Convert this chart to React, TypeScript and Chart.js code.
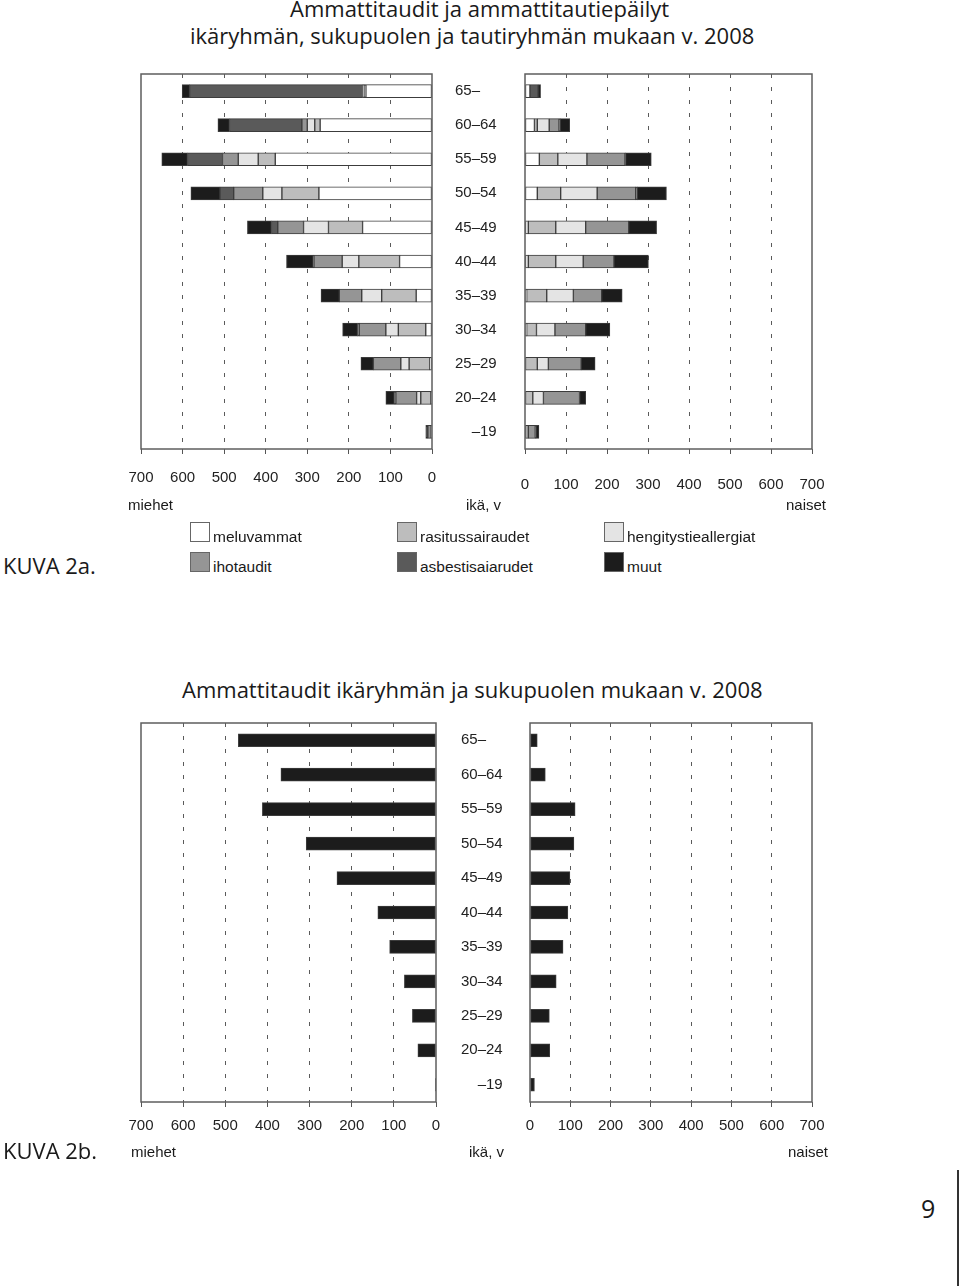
import { useEffect, useRef } from 'react';
import { Chart, registerables } from 'chart.js';

Chart.register(...registerables);

// ikäryhmät ylhäältä alas
const AGE_GROUPS = ['65–', '60–64', '55–59', '50–54', '45–49', '40–44', '35–39', '30–34', '25–29', '20–24', '\u2007\u2007–19'];

const DISEASE_GROUPS = ['meluvammat', 'rasitussairaudet', 'hengitystieallergiat', 'ihotaudit', 'asbestisaiarudet', 'muut'];
const DISEASE_COLORS = ['#ffffff', '#bdbdbd', '#e4e4e4', '#959595', '#5a5a5a', '#1c1c1c'];

// KUVA 2a, miehet
const MEN_MELU = [159, 269, 377, 272, 167, 78, 38, 15, 5, 3, 0];
const MEN_RASITUS = [4, 13, 41, 89, 82, 98, 83, 66, 50, 24, 2];
const MEN_HENGITYS = [2, 18, 48, 46, 60, 40, 48, 30, 20, 10, 0];
const MEN_IHO = [2, 13, 38, 70, 62, 68, 54, 64, 66, 50, 8];
const MEN_ASBESTI = [416, 174, 84, 33, 15, 2, 0, 4, 0, 4, 0];
const MEN_MUUT = [18, 28, 62, 70, 58, 64, 44, 36, 30, 20, 5];

// KUVA 2a, naiset
const WOMEN_MELU = [12, 23, 35, 30, 8, 8, 4, 4, 0, 0, 0];
const WOMEN_RASITUS = [0, 7, 45, 57, 67, 67, 49, 24, 30, 19, 8];
const WOMEN_HENGITYS = [0, 29, 71, 89, 73, 67, 65, 45, 27, 26, 0];
const WOMEN_IHO = [0, 24, 93, 94, 105, 75, 69, 75, 80, 88, 17];
const WOMEN_ASBESTI = [20, 3, 1, 4, 0, 0, 0, 0, 0, 0, 2];
const WOMEN_MUUT = [6, 23, 63, 71, 68, 84, 50, 59, 34, 15, 7];

// KUVA 2b
const MEN_TOTAL = [469, 368, 412, 308, 235, 138, 110, 75, 56, 43, 1];
const WOMEN_TOTAL = [18, 38, 112, 109, 99, 94, 82, 65, 48, 49, 11];

const AXIS_MAX = 700;
const AXIS_STEP = 100;

const AXIS_FONT = "'Liberation Sans', Arial, sans-serif";
const TITLE_FONT = "'Open Sans', 'Noto Sans', sans-serif";

interface Series {
  label: string;
  data: number[];
  color: string;
}

interface PanelProps {
  side: 'left' | 'right';
  series: Series[];
  left: number;
  top: number;
  width: number;
  height: number;
  padLeft: number;
  padRight: number;
  padTop: number;
  tickPadding: number;
  labelWidth?: number;
}

// kehys kuva-alueen ympärille
const frameBox = {
  id: 'frameBox',
  afterDatasetsDraw(chart: any) {
    const { ctx, chartArea } = chart;
    const { left, top, right, bottom } = chartArea;
    ctx.save();
    ctx.strokeStyle = '#5e5e5e';
    ctx.lineWidth = 1.5;
    ctx.strokeRect(left, top, right - left, bottom - top);
    ctx.restore();
  }
};

const Panel = ({ side, series, left, top, width, height, padLeft, padRight, padTop, tickPadding, labelWidth = 70 }: PanelProps) => {
  const canvasRef = useRef<HTMLCanvasElement>(null);

  useEffect(() => {
    if (!canvasRef.current) return;
    const chart = new Chart(canvasRef.current, {
      type: 'bar',
      data: {
        labels: AGE_GROUPS,
        datasets: series.map(s => ({
          label: s.label,
          data: s.data,
          backgroundColor: s.color,
          borderColor: '#3c3c3c',
          borderWidth: 1,
          borderSkipped: false,
          barThickness: 13
        }))
      },
      options: {
        indexAxis: 'y',
        animation: false,
        responsive: true,
        maintainAspectRatio: false,
        layout: { padding: { left: padLeft, right: padRight, top: padTop, bottom: 0 } },
        plugins: {
          legend: { display: false },
          tooltip: { enabled: false }
        },
        scales: {
          x: {
            stacked: true,
            min: 0,
            max: AXIS_MAX,
            reverse: side === 'left',
            ticks: {
              stepSize: AXIS_STEP,
              color: '#222',
              padding: tickPadding,
              maxRotation: 0,
              autoSkip: false,
              font: { family: AXIS_FONT, size: 15 }
            },
            grid: {
              color: (c: any) => (c.tick && (c.tick.value === 0 || c.tick.value === AXIS_MAX)) ? 'rgba(0,0,0,0)' : '#5a5a5a',
              tickColor: '#555',
              tickLength: 5,
              lineWidth: 1
            },
            border: { display: false, dash: [4, 9] },
            afterFit: (scale: any) => { scale.height = 50; }
          },
          y: {
            stacked: true,
            display: side === 'right',
            grid: { display: false, drawTicks: false },
            border: { display: false },
            ticks: {
              crossAlign: 'far',
              padding: 0,
              color: '#222',
              font: { family: AXIS_FONT, size: 15 }
            },
            afterFit: (scale: any) => { scale.width = side === 'right' ? labelWidth : 0; }
          }
        }
      },
      plugins: [frameBox]
    });
    return () => chart.destroy();
  }, [side, series, padLeft, padRight, padTop, tickPadding, labelWidth]);

  return (
    <div style={{ position: 'absolute', left, top, width, height }}>
      <canvas ref={canvasRef} style={{ display: 'block' }} />
    </div>
  );
};

const menSeries: Series[] = [MEN_MELU, MEN_RASITUS, MEN_HENGITYS, MEN_IHO, MEN_ASBESTI, MEN_MUUT]
  .map((d, i) => ({ label: DISEASE_GROUPS[i], data: d, color: DISEASE_COLORS[i] }));
const womenSeries: Series[] = [WOMEN_MELU, WOMEN_RASITUS, WOMEN_HENGITYS, WOMEN_IHO, WOMEN_ASBESTI, WOMEN_MUUT]
  .map((d, i) => ({ label: DISEASE_GROUPS[i], data: d, color: DISEASE_COLORS[i] }));
const menTotal: Series[] = [{ label: 'miehet', data: MEN_TOTAL, color: '#1c1c1c' }];
const womenTotal: Series[] = [{ label: 'naiset', data: WOMEN_TOTAL, color: '#1c1c1c' }];

const Text = ({ x, y, size, font = AXIS_FONT, weight = 400, children, align = 'left' }: any) => (
  <div
    style={{
      position: 'absolute',
      left: align === 'left' ? x : undefined,
      right: align === 'right' ? 960 - x : undefined,
      top: y - size * 0.6,
      fontSize: size,
      fontWeight: weight,
      lineHeight: `${size * 1.2}px`,
      fontFamily: font,
      color: '#1a1a1a',
      whiteSpace: 'nowrap'
    }}
  >
    {children}
  </div>
);

const LEGEND_POS = [
  { x: 190, y: 522 }, { x: 397, y: 522 }, { x: 604, y: 522 },
  { x: 190, y: 552 }, { x: 397, y: 552 }, { x: 604, y: 552 }
];

export default function App() {
  return (
    <div style={{ position: 'absolute', left: 0, top: 0, width: 960, height: 1286, background: '#fff', overflow: 'hidden' }}>
      <Text x={290} y={8} size={22} weight={500} font={TITLE_FONT}>Ammattitaudit ja ammattitautiepäilyt</Text>
      <Text x={190} y={35} size={22} weight={500} font={TITLE_FONT}>ikäryhmän, sukupuolen ja tautiryhmän mukaan v. 2008</Text>

      <Panel side="left" series={menSeries} left={100} top={64} width={372} height={435}
        padLeft={41} padRight={40} padTop={10} tickPadding={15} />
      <Panel side="right" series={womenSeries} left={450} top={64} width={402} height={435}
        padLeft={5} padRight={40} padTop={10} tickPadding={22} />

      <Text x={128} y={505} size={15}>miehet</Text>
      <Text x={466} y={505} size={15}>ikä, v</Text>
      <Text x={826} y={505} size={15} align="right">naiset</Text>

      {DISEASE_GROUPS.map((g, i) => (
        <div key={g}>
          <div style={{
            position: 'absolute', left: LEGEND_POS[i].x, top: LEGEND_POS[i].y, width: 18, height: 18,
            background: DISEASE_COLORS[i], border: '1px solid #666'
          }} />
          <Text x={LEGEND_POS[i].x + 23} y={LEGEND_POS[i].y + 15} size={15.5}>{g}</Text>
        </div>
      ))}

      <Text x={3} y={565} size={22} font={TITLE_FONT}>KUVA 2a.</Text>

      <Text x={182} y={689} size={22} weight={500} font={TITLE_FONT}>Ammattitaudit ikäryhmän ja sukupuolen mukaan v. 2008</Text>

      <Panel side="left" series={menTotal} left={100} top={713} width={376} height={439}
        padLeft={41} padRight={40} padTop={10} tickPadding={10} />
      <Panel side="right" series={womenTotal} left={456} top={713} width={396} height={439}
        padLeft={5} padRight={40} padTop={10} tickPadding={10} labelWidth={69} />

      <Text x={131} y={1152} size={15}>miehet</Text>
      <Text x={469} y={1152} size={15}>ikä, v</Text>
      <Text x={828} y={1152} size={15} align="right">naiset</Text>

      <Text x={3} y={1150} size={22} font={TITLE_FONT}>KUVA 2b.</Text>

      <Text x={921} y={1208} size={25} font={TITLE_FONT}>9</Text>
      <div style={{ position: 'absolute', left: 957, top: 1170, width: 2, height: 116, background: '#333' }} />
    </div>
  );
}
